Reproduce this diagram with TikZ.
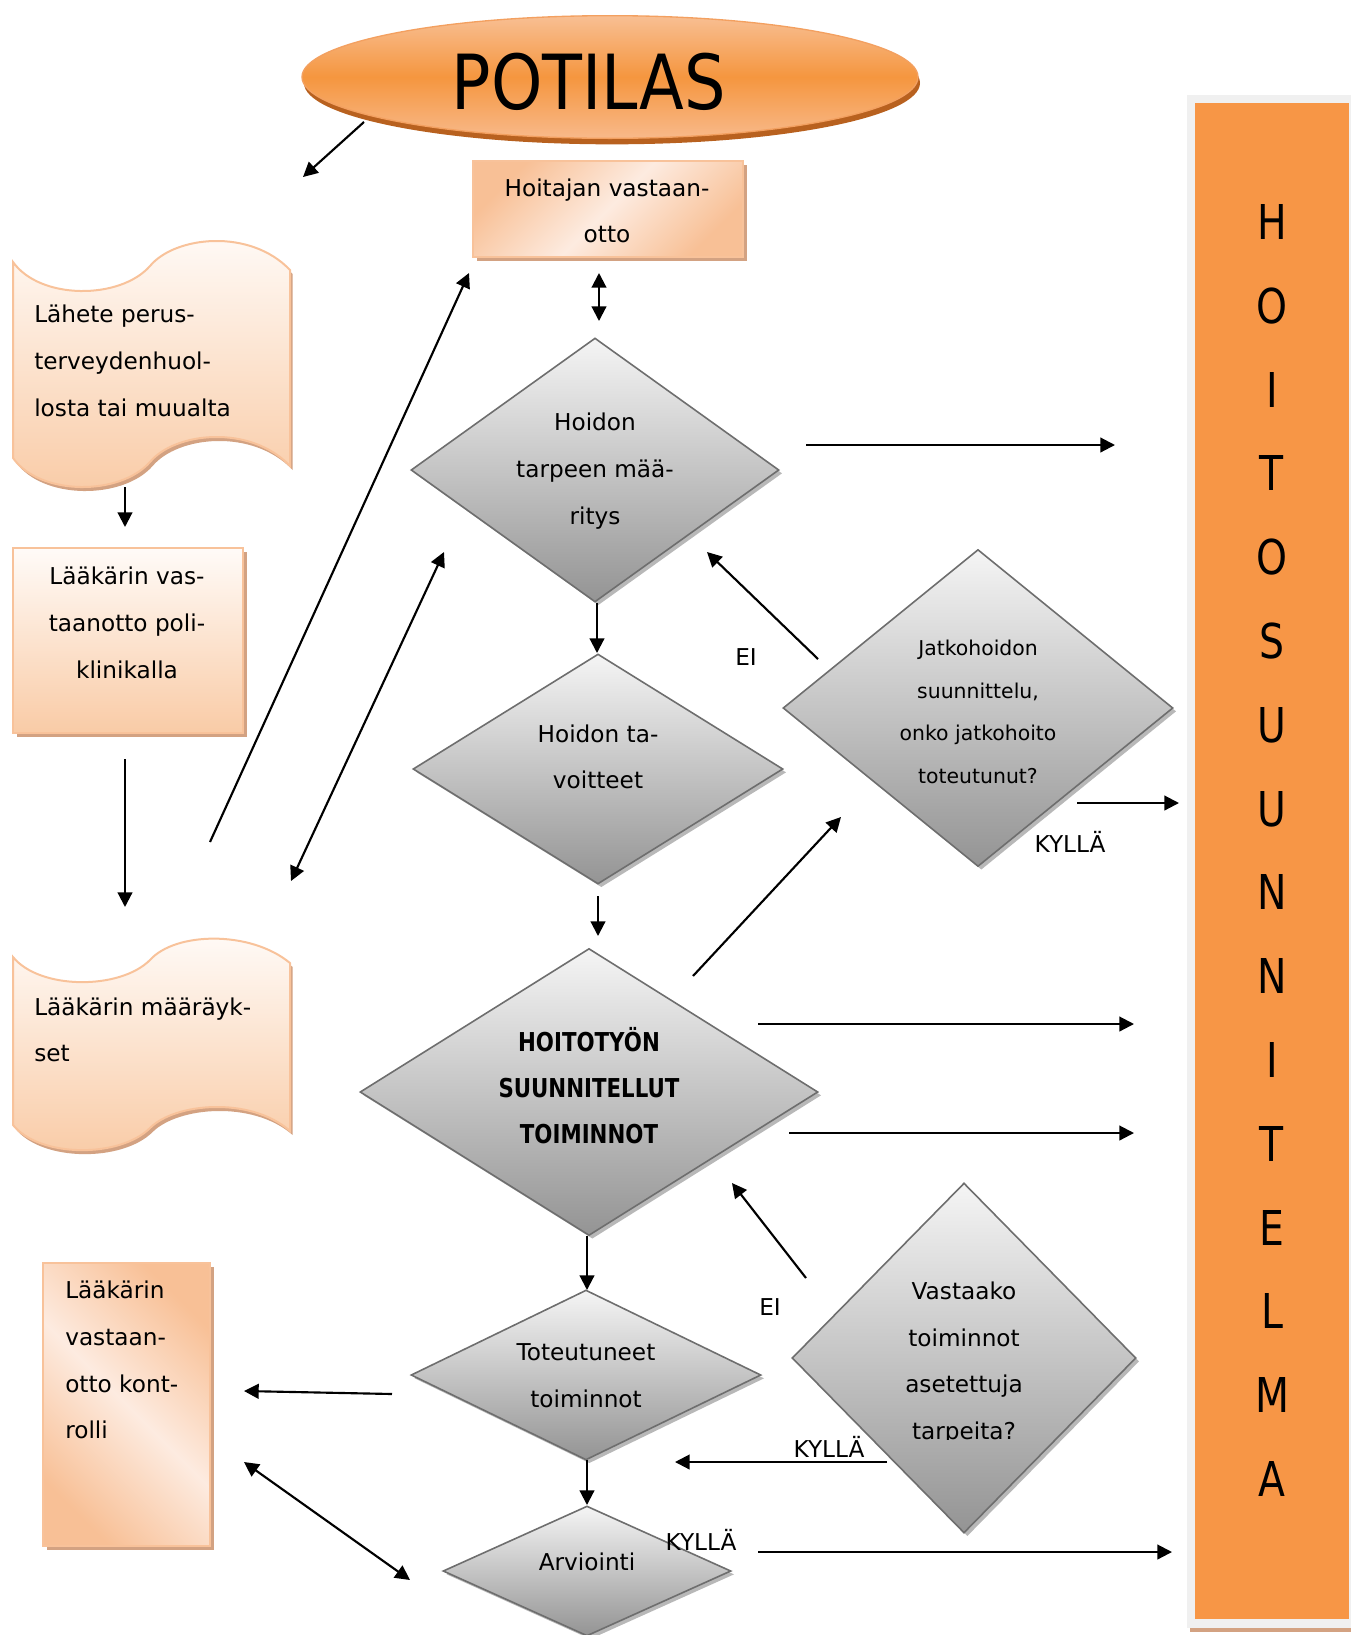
\documentclass[tikz,border=0pt]{standalone}
\usepackage{fontspec}
\setmainfont{DejaVu Sans}
\usetikzlibrary{shapes.geometric,arrows.meta,shadows}
\definecolor{orng}{HTML}{F79646}
\definecolor{pchD}{HTML}{F8C096}
\definecolor{pchL}{HTML}{FDEBE0}
\definecolor{pchTop}{HTML}{FFFBF8}
\definecolor{pchBot}{HTML}{F9CBA6}
\definecolor{pchBorder}{HTML}{F8C29A}
\definecolor{pchShadow}{HTML}{D3A282}
\definecolor{diaBorder}{HTML}{6E6E6E}
\definecolor{colGray}{HTML}{F0F0F0}
\definecolor{ellTop}{HTML}{F8BF93}
\definecolor{ellMid}{HTML}{F5963F}
\definecolor{ellBot}{HTML}{F8B98A}
\definecolor{ellBorder}{HTML}{F3A060}
\definecolor{ellShadow}{HTML}{B8611F}
\pgfdeclarehorizontalshading{peachband}{100bp}{color(0bp)=(pchD); color(25bp)=(pchD); color(50bp)=(pchL); color(75bp)=(pchD); color(100bp)=(pchD)}
\begin{document}
\begin{tikzpicture}[x=0.75pt,y=-0.75pt,
  arr/.style={line width=1.6pt,-{Triangle[length=11pt,width=11pt]}},
  darr/.style={line width=1.6pt,{Triangle[length=11pt,width=11pt]}-{Triangle[length=11pt,width=11pt]}},
  txt/.style={font=\fontsize{17.4}{35}\selectfont,inner sep=0pt,align=center},
  dia/.style={diamond,draw=diaBorder,line width=1.2pt,inner sep=0pt,top color=white!96!black,bottom color=black!42,
    drop shadow={shadow xshift=2.5pt,shadow yshift=-2.5pt,fill=black!28,opacity=1}},
  pbox/.style={rectangle,draw=pchBorder,line width=1.5pt,inner sep=0pt,shading=peachband,
    drop shadow={shadow xshift=3pt,shadow yshift=-3pt,fill=pchShadow,opacity=1}},
  vbox/.style={rectangle,draw=pchBorder,line width=1.5pt,inner sep=0pt,top color=pchTop,bottom color=pchBot,
    drop shadow={shadow xshift=3pt,shadow yshift=-3pt,fill=pchShadow,opacity=1}},
  wave/.style={draw=pchBorder,line width=1.5pt,top color=pchTop,bottom color=pchBot,
    drop shadow={shadow xshift=2pt,shadow yshift=-3pt,fill=pchShadow,opacity=1}}
]
\useasboundingbox (0,0) rectangle (1351,1635);

% right column
\fill[colGray] (1187,95) rectangle (1351,1628);
\fill[pchShadow] (1190,1628) rectangle (1351,1632);
\node[rectangle,fill=orng,inner sep=0pt,minimum width=115.5pt,minimum height=1137pt] (col) at (1272,861) {};
\node[font=\fontsize{36}{62.85}\selectfont,align=center,inner sep=0pt,xscale=0.82,transform shape] (plan) at (1272,850.5)
  {H\\O\\I\\T\\O\\S\\U\\U\\N\\N\\I\\T\\E\\L\\M\\A};

% POTILAS
\node[ellipse,draw=ellBorder,line width=1pt,inner sep=0pt,minimum width=462pt,minimum height=92pt,
  top color=ellTop,bottom color=ellBot,middle color=ellMid,
  drop shadow={shadow xshift=1.5pt,shadow yshift=-4.5pt,fill=ellShadow,opacity=1}] (pot) at (610,77) {};
\node[font=\fontsize{57}{60}\selectfont,inner sep=0pt,xscale=0.86,transform shape] (potT) at (589,82) {POTILAS};

% Hoitajan vastaanotto
\node[pbox,shading angle=-45,minimum width=202pt,minimum height=72pt] (hoit) at (608,209) {};
\node[txt] (hoitT) at (607,211) {Hoitajan vastaan-\\otto};

% Lähete (wave)
\path[wave] (13,262) .. controls (40,300) and (120,300) .. (150,266) .. controls (175,236) and (250,228) .. (290,270)
  -- (290,466) .. controls (250,424) and (175,432) .. (150,462) .. controls (120,496) and (40,496) .. (13,458) -- cycle;
\node[txt,align=left,anchor=west] (lahete) at (34,361) {Lähete perus-\\terveydenhuol-\\losta tai muualta};

% Lääkärin vastaanotto poliklinikalla
\node[vbox,minimum width=172pt,minimum height=138.75pt] (poli) at (128,640.5) {};
\node[txt] (poliT) at (127,623) {Lääkärin vas-\\taanotto poli-\\klinikalla};

% Lääkärin määräykset (wave)
\path[wave] (13,957) .. controls (40,990) and (120,990) .. (150,960) .. controls (175,932) and (250,930) .. (290,963)
  -- (290,1131) .. controls (250,1096) and (175,1103) .. (150,1128) .. controls (120,1158) and (40,1158) .. (13,1125) -- cycle;
\node[txt,align=left,anchor=west] (maar) at (34,1030) {Lääkärin määräyk-\\set};

% Lääkärin vastaanotto kontrolli
\node[pbox,shading angle=45,minimum width=125.25pt,minimum height=212.25pt] (kont) at (126.5,1404.5) {};
\node[txt,align=left,anchor=west] (kontT) at (65,1360) {Lääkärin\\vastaan-\\otto kont-\\rolli};

% diamonds
\node[dia,minimum width=276pt,minimum height=198pt] (d1) at (595,470) {};
\node[txt] (d1T) at (595,471) {Hoidon\\tarpeen mää-\\ritys};
\node[dia,minimum width=277.5pt,minimum height=172.5pt] (d2) at (598,769) {};
\node[txt] (d2T) at (598,757) {Hoidon ta-\\voitteet};
\node[dia,minimum width=343.5pt,minimum height=215.25pt] (d3) at (589,1092) {};
\node[txt,font=\bfseries\fontsize{19.5}{34.5}\selectfont,xscale=0.82,transform shape] (d3T) at (589,1086)
  {HOITOTYÖN\\SUUNNITELLUT\\TOIMINNOT};
\node[dia,minimum width=262.5pt,minimum height=127.5pt] (d4) at (586,1375) {};
\node[txt] (d4T) at (586,1376) {Toteutuneet\\toiminnot};
\node[dia,minimum width=216pt,minimum height=97.5pt] (d5) at (587,1571) {};
\node[txt] (d5T) at (587,1562) {Arviointi};
\node[dia,minimum width=292.5pt,minimum height=237.75pt] (d6) at (978,708) {};
\node[txt,font=\fontsize{15.3}{32}\selectfont] (d6T) at (978,712) {Jatkohoidon\\suunnittelu,\\onko jatkohoito\\toteutunut?};
\node[dia,minimum width=258pt,minimum height=262.5pt] (d7) at (964,1358) {};
\begin{scope}
\clip (800,1240) rectangle (1130,1439);
\node[txt] (d7T) at (964,1363) {Vastaako\\toiminnot\\asetettuja\\tarpeita?};
\end{scope}

% connector end points
\coordinate (c1a) at (364,122);  \coordinate (c1b) at (303,177);
\coordinate (c2a) at (599,273);  \coordinate (c2b) at (599,321);
\coordinate (c3a) at (210,842);  \coordinate (c3b) at (469,273);
\coordinate (c4a) at (291,881);  \coordinate (c4b) at (444,552);
\coordinate (c5a) at (806,445);  \coordinate (c5b) at (1115,445);
\coordinate (c6a) at (597,603);  \coordinate (c6b) at (597,653);
\coordinate (c7a) at (818,659);  \coordinate (c7b) at (707,552);
\coordinate (c8a) at (1077,803); \coordinate (c8b) at (1179,803);
\coordinate (c9a) at (598,896);  \coordinate (c9b) at (598,936);
\coordinate (c10a) at (693,976); \coordinate (c10b) at (841,817);
\coordinate (c11a) at (758,1024); \coordinate (c11b) at (1134,1024);
\coordinate (c12a) at (789,1133); \coordinate (c12b) at (1134,1133);
\coordinate (c13a) at (806,1278); \coordinate (c13b) at (732,1183);
\coordinate (c14a) at (887,1462); \coordinate (c14b) at (675,1462);
\coordinate (c15a) at (587,1236); \coordinate (c15b) at (587,1290);
\coordinate (c16a) at (392,1394); \coordinate (c16b) at (244,1391);
\coordinate (c17a) at (587,1460); \coordinate (c17b) at (587,1505);
\coordinate (c18a) at (244,1462); \coordinate (c18b) at (410,1580);
\coordinate (c19a) at (758,1552); \coordinate (c19b) at (1172,1552);
\coordinate (c20a) at (125,487);  \coordinate (c20b) at (125,527);
\coordinate (c21a) at (125,759);  \coordinate (c21b) at (125,907);

\draw[arr] (c1a) -- (c1b);
\draw[darr] (c2a) -- (c2b);
\draw[arr] (c3a) -- (c3b);
\draw[darr] (c4a) -- (c4b);
\draw[arr] (c5a) -- (c5b);
\draw[arr] (c6a) -- (c6b);
\draw[arr] (c7a) -- (c7b);
\draw[arr] (c8a) -- (c8b);
\draw[arr] (c9a) -- (c9b);
\draw[arr] (c10a) -- (c10b);
\draw[arr] (c11a) -- (c11b);
\draw[arr] (c12a) -- (c12b);
\draw[arr] (c13a) -- (c13b);
\draw[arr] (c14a) -- (c14b);
\draw[arr] (c15a) -- (c15b);
\draw[arr] (c16a) -- (c16b);
\draw[arr] (c17a) -- (c17b);
\draw[darr] (c18a) -- (c18b);
\draw[arr] (c19a) -- (c19b);
\draw[arr] (c20a) -- (c20b);
\draw[arr] (c21a) -- (c21b);

% labels
\node[txt] (ei1) at (746,657) {EI};
\node[txt] (ky1) at (1070,842) {KYLLÄ};
\node[txt] (ei2) at (770,1307) {EI};
\node[txt] (ky2) at (829,1447) {KYLLÄ};
\node[txt] (ky3) at (701,1540) {KYLLÄ};
\end{tikzpicture}
\end{document}
